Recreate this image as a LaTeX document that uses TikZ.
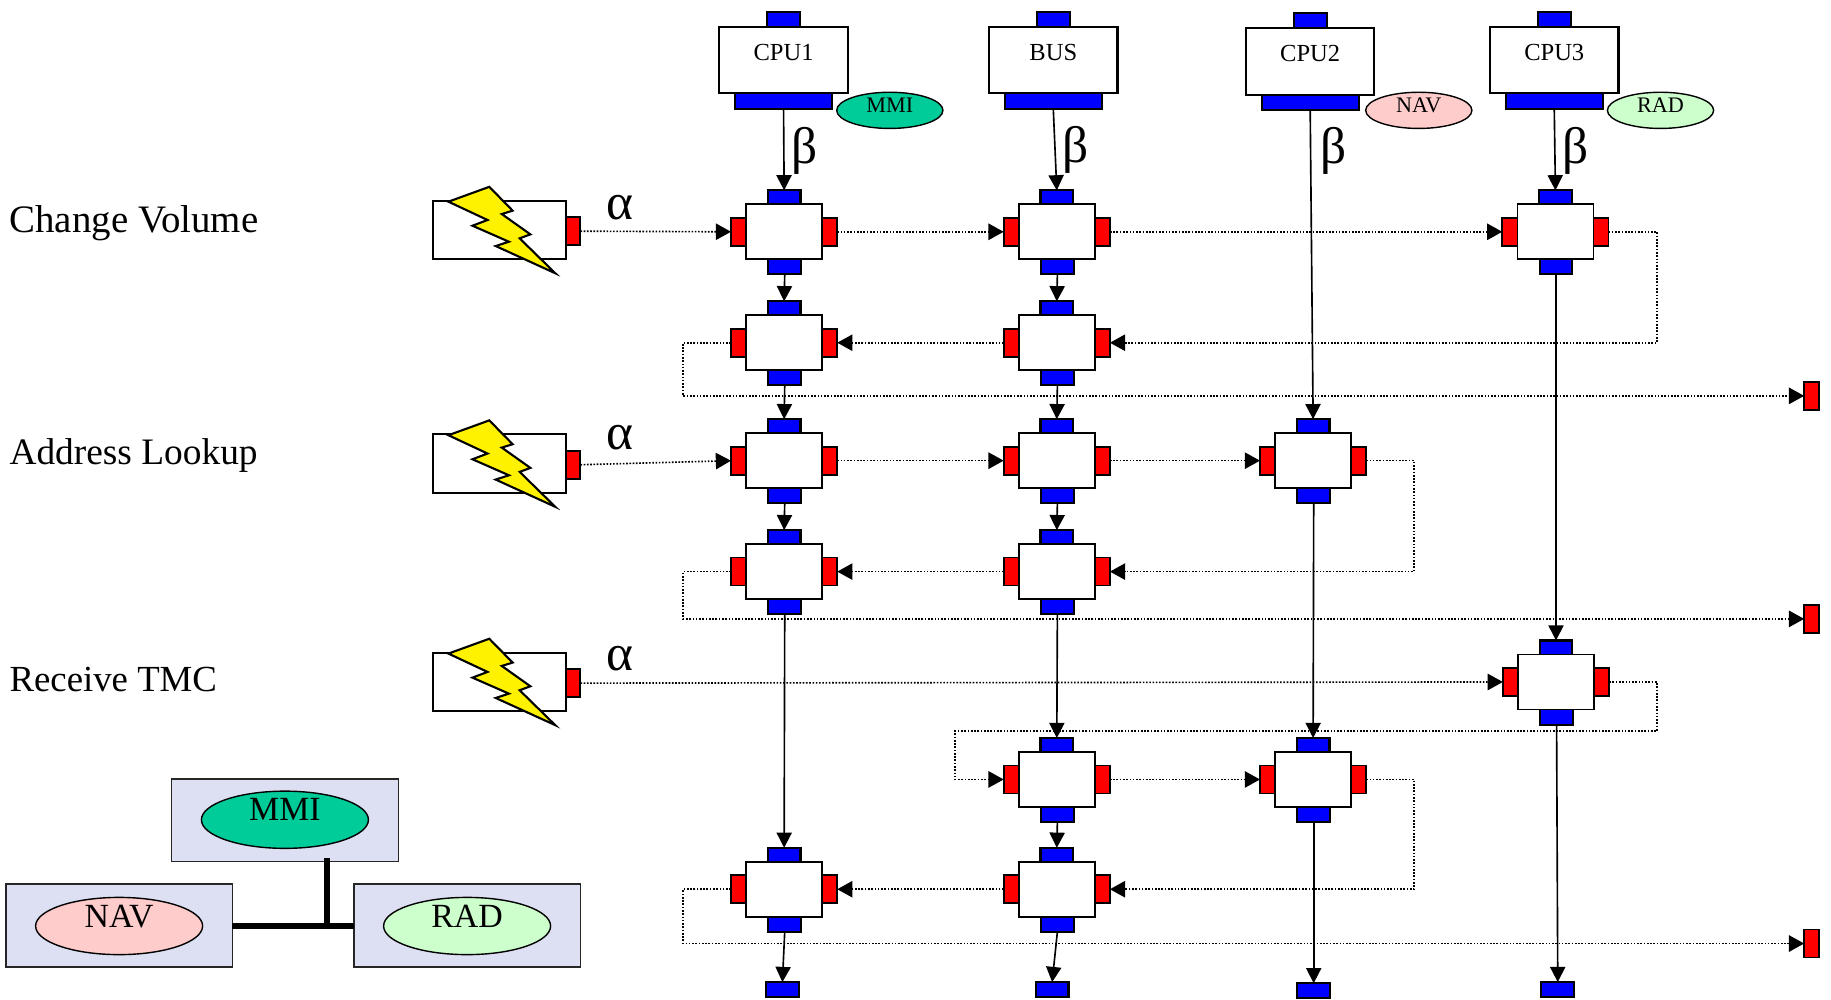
\documentclass[tikz,border=0pt]{standalone}
\usepackage{fontspec}
\setmainfont{Liberation Serif}
\usetikzlibrary{arrows.meta,shapes.geometric,calc}
\definecolor{mmi}{HTML}{00CC99}
\definecolor{nav}{HTML}{FFCCCC}
\definecolor{rad}{HTML}{CCFFCC}
\definecolor{panel}{HTML}{DDDFF3}
\tikzset{
  wbox/.style={draw=black,fill=white,line width=1.5pt,rectangle,inner sep=0pt,outer sep=0pt,minimum width=65pt,minimum height=47pt},
  cpubox/.style={draw=black,fill=white,line width=1.8pt,rectangle,inner sep=0pt,outer sep=0pt,minimum width=110pt,minimum height=57pt,font=\fontsize{21}{21}\selectfont},
  srcbox/.style={draw=black,fill=white,line width=1.8pt,rectangle,inner sep=0pt,outer sep=0pt,minimum width=114pt,minimum height=50pt},
  bluep/.style={draw=black,fill=blue,line width=1.8pt,rectangle,inner sep=0pt,outer sep=0pt,minimum width=28pt,minimum height=13pt},
  bluewide/.style={bluep,minimum width=83pt,minimum height=14pt},
  redp/.style={draw=black,fill=red,line width=1.5pt,rectangle,inner sep=0pt,outer sep=0pt,minimum width=13pt,minimum height=24pt},
  flow/.style={draw=black,line width=1.4pt,-{Triangle[length=13pt,width=13pt]}},
  dotline/.style={draw=black,line width=1.4pt,dash pattern=on 1.4pt off 1.4pt},
  dotflow/.style={dotline,-{Triangle[length=13pt,width=14pt]}},
  ell/.style={ellipse,draw=black,line width=1.2pt,inner sep=0pt,outer sep=0pt},
  tagell/.style={ell,minimum width=91pt,minimum height=31pt,font=\fontsize{19}{19}\selectfont},
  bigell/.style={ell,minimum width=143pt,minimum height=49pt,font=\fontsize{29}{29}\selectfont},
  panelbox/.style={draw=black!85,fill=panel,line width=1.2pt,rectangle,inner sep=0pt,outer sep=0pt,minimum width=194pt,minimum height=71pt},
  heading/.style={anchor=west,inner sep=0pt},
  greek/.style={inner sep=0pt,font=\fontsize{44}{44}\selectfont},
  bolt/.style={draw=black,fill=yellow,line width=1.8pt,line join=miter},
  bus/.style={draw=black,line width=4.5pt}
}
\newcommand{\liftx}[2]{\raisebox{#1}[0pt][0pt]{#2}}
\newcommand{\blockn}[3]{%
  \node[bluep] (#1-t) at (#2,#3-29) {};
  \node[bluep] (#1-b) at (#2+.5,#3+30) {};
  \node[redp] (#1-l) at (#2-39,#3) {};
  \node[redp] (#1-r) at (#2+39,#3) {};
  \node[wbox] (#1) at (#2,#3) {};
}
\newcommand{\srcn}[2]{%
  \node[srcbox] (#1) at (428,#2) {};
  \node[redp,minimum width=12pt] (#1-r) at (491,#2+1) {};
  \draw[bolt] ($(#1)+(-44,-24.3)$) -- ($(#1)+(-9,-37)$) -- ($(#1)+(11,-16.6)$) -- ($(#1)+(1.7,-13.7)$) -- ($(#1)+(26.2,3.7)$) -- ($(#1)+(17,7.1)$) -- ($(#1)+(47.5,37)$) -- ($(#1)+(-3.5,13.7)$) -- ($(#1)+(7.8,10)$) -- ($(#1)+(-23.4,-3.7)$) -- ($(#1)+(-10.5,-8.6)$) -- cycle;
}
\newcommand{\cpun}[3]{%
  \node[bluep] (#1-t) at (#2,#3-34.5) {};
  \node[bluewide] (#1-b) at (#2,#3+35) {};
}
\begin{document}
\begin{tikzpicture}[x=1pt,y=-1pt]
\useasboundingbox (0,0) rectangle (1568,856);
% headings
\node[heading,font=\fontsize{33.3}{33}\selectfont] (h1) at (8,191.5) {Change Volume};
\node[heading,font=\fontsize{32}{32}\selectfont] (h2) at (8,390.5) {Address Lookup};
\node[heading,font=\fontsize{31.5}{32}\selectfont] (h3) at (8,582) {Receive TMC};
% CPUs
\cpun{cpu1}{671}{51.5}
\node[cpubox] (cpu1) at (671,51.5) {\liftx{-0.5pt}{CPU1}};
\cpun{bus}{902}{51.5}
\node[cpubox] (bus) at (902,51.5) {\liftx{-0.5pt}{BUS}};
\cpun{cpu2}{1122}{52.5}
\node[cpubox] (cpu2) at (1122,52.5) {\liftx{-0.5pt}{CPU2}};
\cpun{cpu3}{1331}{51.5}
\node[cpubox] (cpu3) at (1331,51.5) {\liftx{-0.5pt}{CPU3}};
\node[tagell,fill=mmi] (tmmi) at (762,94.5) {\liftx{-1.5pt}{MMI}};
\node[tagell,fill=nav] (tnav) at (1215,94.5) {\liftx{-1.5pt}{NAV}};
\node[tagell,fill=rad] (trad) at (1422,94.5) {\liftx{-1.5pt}{RAD}};
% sources
\srcn{s1}{197}
\srcn{s2}{397}
\srcn{s3}{584}
% blocks
\blockn{a1}{671.5}{198.5}
\blockn{b1}{905}{198.5}
\blockn{d1}{1332}{198.5}
\blockn{a2}{671.5}{293.5}
\blockn{b2}{905}{293.5}
\blockn{a3}{671.5}{394.5}
\blockn{b3}{905}{394.5}
\blockn{c3}{1124.5}{394.5}
\blockn{a4}{671.5}{489.5}
\blockn{b4}{905}{489.5}
\blockn{d5}{1332.5}{584}
\blockn{b6}{905}{667.5}
\blockn{c6}{1124.5}{667.5}
\blockn{a7}{671.5}{761.5}
\blockn{b7}{905}{761.5}
% end ports
\node[redp] (e1) at (1551.5,339) {};
\node[redp] (e2) at (1551.5,530) {};
\node[redp] (e3) at (1551.5,808) {};
\node[bluep] (ea) at (670,847.5) {};
\node[bluep] (eb) at (901,847.5) {};
\node[bluep] (ec) at (1125,848.5) {};
\node[bluep] (ed) at (1334,847.5) {};
% greek
\node[greek] (al1) at (531,178) {α};
\node[greek] (al2) at (531,375) {α};
\node[greek] (al3) at (531,564) {α};
\node[greek] (be1) at (689,129) {β};
\node[greek] (be2) at (921,128) {β};
\node[greek] (be3) at (1142,129) {β};
\node[greek] (be4) at (1349,129) {β};
% solid flows
\draw[flow] (cpu1-b.south) -- (a1-t.north);
\draw[flow] (bus-b.south) -- (b1-t.north);
\draw[flow] (cpu2-b.south) -- (c3-t.north);
\draw[flow] (cpu3-b.south) -- (d1-t.north);
\draw[flow] (a1-b.south) -- (a2-t.north);
\draw[flow] (a2-b.south) -- (a3-t.north);
\draw[flow] (a3-b.south) -- (a4-t.north);
\draw[flow] (a4-b.south) -- (a7-t.north);
\draw[flow] (b1-b.south) -- (b2-t.north);
\draw[flow] (b2-b.south) -- (b3-t.north);
\draw[flow] (b3-b.south) -- (b4-t.north);
\draw[flow] (b4-b.south) -- (b6-t.north);
\draw[flow] (b6-b.south) -- (b7-t.north);
\draw[flow] (c3-b.south) -- (c6-t.north);
\draw[flow] (d1-b.south) -- (d5-t.north);
\draw[flow] (a7-b.south) -- (ea.north);
\draw[flow] (b7-b.south) -- (eb.north);
\draw[flow] (c6-b.south) -- (ec.north);
\draw[flow] (d5-b.south) -- (ed.north);
% corner coordinates
\coordinate (w1a) at (1419,198.5);
\coordinate (w1b) at (1419,293.5);
\coordinate (w1c) at (585,293.5);
\coordinate (w1d) at (585,339);
\coordinate (w2a) at (1211,394.5);
\coordinate (w2b) at (1211,489.5);
\coordinate (w2c) at (585,489.5);
\coordinate (w2d) at (585,530);
\coordinate (w3a) at (1419,584);
\coordinate (w3b) at (1419,626);
\coordinate (w3c) at (818,626);
\coordinate (w3d) at (818,667.5);
\coordinate (w4a) at (1211,667.5);
\coordinate (w4b) at (1211,761.5);
\coordinate (w4c) at (585,761.5);
\coordinate (w4d) at (585,808);
% dotted flows
\draw[dotflow] (s1-r.east) -- (a1-l.west);
\draw[dotflow] (a1-r.east) -- (b1-l.west);
\draw[dotflow] (b1-r.east) -- (d1-l.west);
\draw[dotflow] (d1-r.east) -- (w1a) -- (w1b) -- (b2-r.east);
\draw[dotflow] (b2-l.west) -- (a2-r.east);
\draw[dotflow] (a2-l.west) -- (w1c) -- (w1d) -- (e1.west);
\draw[dotflow] (s2-r.east) -- (a3-l.west);
\draw[dotflow] (a3-r.east) -- (b3-l.west);
\draw[dotflow] (b3-r.east) -- (c3-l.west);
\draw[dotflow] (c3-r.east) -- (w2a) -- (w2b) -- (b4-r.east);
\draw[dotflow] (b4-l.west) -- (a4-r.east);
\draw[dotflow] (a4-l.west) -- (w2c) -- (w2d) -- (e2.west);
\draw[dotflow] (s3-r.east) -- (d5-l.west);
\draw[dotflow] (d5-r.east) -- (w3a) -- (w3b) -- (w3c) -- (w3d) -- (b6-l.west);
\draw[dotflow] (b6-r.east) -- (c6-l.west);
\draw[dotflow] (c6-r.east) -- (w4a) -- (w4b) -- (b7-r.east);
\draw[dotflow] (b7-l.west) -- (a7-r.east);
\draw[dotflow] (a7-l.west) -- (w4c) -- (w4d) -- (e3.west);
% legend
\node[panelbox] (pm) at (244,702.5) {};
\node[panelbox] (pn) at (102,792.5) {};
\node[panelbox] (pr) at (400,792.5) {};
\node[bigell,fill=mmi] (em) at (244,702) {\liftx{-1pt}{MMI}};
\node[bigell,fill=nav] (en) at (102,793) {\liftx{-1.5pt}{NAV}};
\node[bigell,fill=rad] (er) at (400,793) {\liftx{-1.5pt}{RAD}};
\coordinate (jt) at (280,735);
\coordinate (jb) at (280,793);
\draw[bus] (pn.east |- jb) -- (pr.west |- jb);
\draw[bus] (jt) -- (jb);
\end{tikzpicture}
\end{document}
